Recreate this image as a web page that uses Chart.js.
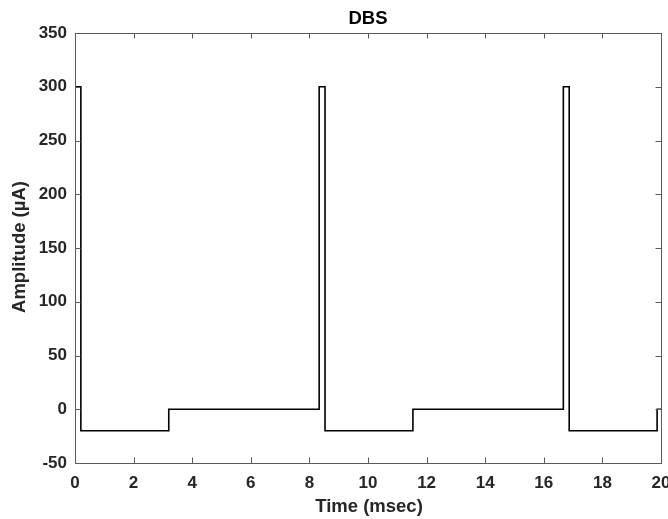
<!DOCTYPE html>
<html>
<head>
<meta charset="utf-8">
<script src="https://cdn.jsdelivr.net/npm/chart.js@4"></script>
<style>
  html, body { margin: 0; padding: 0; background: #fff; }
  #wrap { width: 668px; height: 519px; }
</style>
</head>
<body>
<div id="wrap"><canvas id="c" width="668" height="519"></canvas></div>
<script>
const titleText = "DBS";
const xLabel = "Time (msec)";
const yLabel = "Amplitude (\u00B5A)";
const timeMs = [0, 0.2, 0.2, 3.2, 3.2, 8.333, 8.333, 8.533, 8.533, 11.533, 11.533, 16.667, 16.667, 16.867, 16.867, 19.867, 19.867, 20];
const amplitudeUA = [300, 300, -20, -20, 0, 0, 300, 300, -20, -20, 0, 0, 300, 300, -20, -20, 0, 0];
const xTicks = [0, 2, 4, 6, 8, 10, 12, 14, 16, 18, 20];
const yTicks = [-50, 0, 50, 100, 150, 200, 250, 300, 350];

const points = timeMs.map((t, i) => ({ x: t, y: amplitudeUA[i] }));
const FONT = "'Liberation Sans', Arial, Helvetica, sans-serif";
const AXIS = '#5a5a5a';
const TXT = '#262626';

const boxPlugin = {
  id: 'box',
  afterDraw(chart) {
    const { ctx, chartArea: a, scales } = chart;
    ctx.save();
    ctx.strokeStyle = AXIS;
    ctx.lineWidth = 1;
    ctx.strokeRect(Math.round(a.left) + 0.5, Math.round(a.top) + 0.5, Math.round(a.right - a.left), Math.round(a.bottom - a.top));
    const L = 5.5;
    ctx.beginPath();
    xTicks.forEach(v => {
      const px = Math.round(scales.x.getPixelForValue(v)) + 0.5;
      ctx.moveTo(px, a.bottom); ctx.lineTo(px, a.bottom - L);
      ctx.moveTo(px, a.top); ctx.lineTo(px, a.top + L);
    });
    yTicks.forEach(v => {
      const py = Math.round(scales.y.getPixelForValue(v)) + 0.5;
      ctx.moveTo(a.left, py); ctx.lineTo(a.left + L, py);
      ctx.moveTo(a.right, py); ctx.lineTo(a.right - L, py);
    });
    ctx.stroke();
    ctx.fillStyle = '#000';
    ctx.font = 'bold 18.5px ' + FONT;
    ctx.textAlign = 'center';
    ctx.textBaseline = 'middle';
    ctx.fillText(titleText, 368, 19);
    ctx.fillStyle = TXT;
    ctx.fillText(xLabel, 369, 507);
    ctx.translate(20, 247);
    ctx.rotate(-Math.PI / 2);
    ctx.fillText(yLabel, 0, 0);
    ctx.restore();
  }
};

new Chart(document.getElementById('c'), {
  type: 'scatter',
  data: {
    datasets: [{
      data: points,
      showLine: true,
      borderColor: '#000',
      borderWidth: 1.6,
      pointRadius: 0,
      fill: false,
      tension: 0
    }]
  },
  options: {
    responsive: false,
    animation: false,
    layout: { padding: { left: 0, right: 7, top: 33, bottom: 0 } },
    plugins: { legend: { display: false }, tooltip: { enabled: false }, title: { display: false } },
    scales: {
      x: {
        type: 'linear', min: 0, max: 20,
        afterBuildTicks(s) { s.ticks = xTicks.map(v => ({ value: v })); },
        afterFit(s) { s.height = 56; s.paddingLeft = 0; s.paddingRight = 0; },
        grid: { display: false, drawTicks: false },
        border: { display: false },
        ticks: { color: TXT, font: { family: FONT, size: 17, weight: 'bold' }, padding: 10, maxRotation: 0, autoSkip: false }
      },
      y: {
        type: 'linear', min: -50, max: 350,
        afterBuildTicks(s) { s.ticks = yTicks.map(v => ({ value: v })); },
        afterFit(s) { s.width = 75; s.paddingTop = 0; s.paddingBottom = 0; },
        grid: { display: false, drawTicks: false },
        border: { display: false },
        ticks: { color: TXT, font: { family: FONT, size: 17, weight: 'bold' }, padding: 8, autoSkip: false }
      }
    }
  },
  plugins: [boxPlugin]
});
</script>
</body>
</html>
